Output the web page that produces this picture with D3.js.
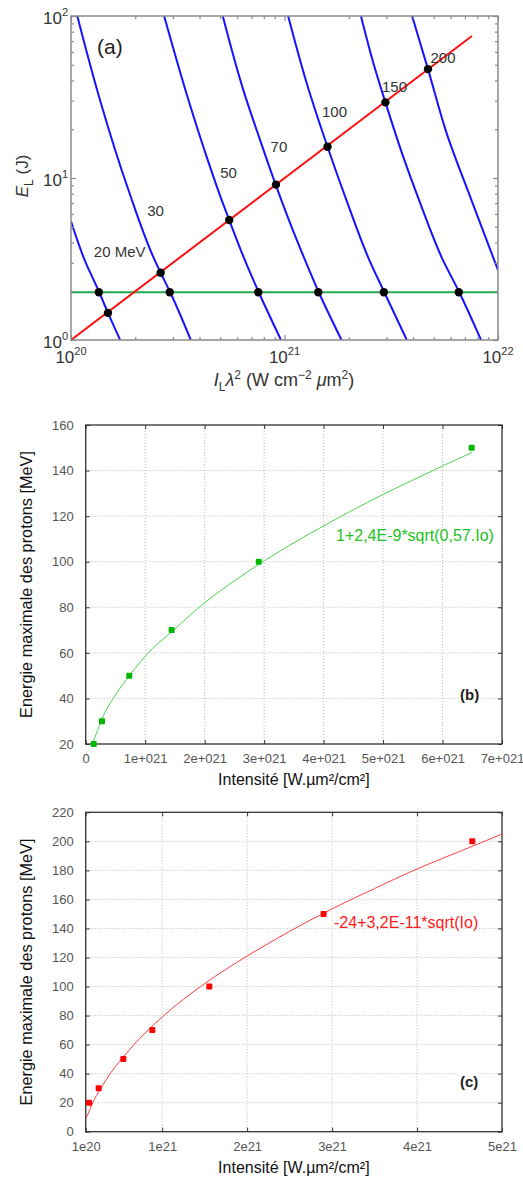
<!DOCTYPE html>
<html>
<head>
<meta charset="utf-8">
<script src="https://cdn.jsdelivr.net/npm/d3@7"></script>
<style>
  body { margin: 0; background: #fff; }
  svg { display: block; font-family: "Liberation Sans", Arial, sans-serif; }
</style>
</head>
<body>
<svg id="chart" width="523" height="1178"></svg>
<script>
// ================= DATA =================
// ---- Panel (a): iso-energy curves, E_L (J) vs I_L*lambda^2 (W cm^-2 um^2)
const curveNames = ["20 MeV", "30", "50", "70", "100", "150", "200"];
const curve20Intensity  = [1.00e20, 1.16e20, 1.35e20, 1.49e20, 1.70e20];
const curve20Energy     = [5.4, 3.1, 2.0, 1.47, 1.0];
const curve30Intensity  = [1.07e20, 1.37e20, 1.86e20, 2.47e20, 2.63e20, 2.90e20, 3.64e20];
const curve30Energy     = [100, 30, 8.4, 3.1, 2.6, 2.0, 1.0];
const curve50Intensity  = [2.73e20, 3.55e20, 4.32e20, 5.08e20, 5.51e20, 6.53e20, 7.54e20, 9.63e20];
const curve50Energy     = [100, 30.3, 13.5, 7.3, 5.5, 3.1, 2.0, 1.0];
const curve70Intensity  = [5.14e20, 6.41e20, 7.68e20, 9.12e20, 1.06e21, 1.25e21, 1.44e21, 1.85e21];
const curve70Energy     = [100, 35, 17.2, 9.0, 5.3, 3.1, 2.0, 1.0];
const curve100Intensity = [1.04e21, 1.27e21, 1.59e21, 1.95e21, 2.50e21, 2.92e21, 3.74e21];
const curve100Energy    = [100, 38.6, 15.6, 7.3, 3.1, 2.0, 1.0];
const curve150Intensity = [2.28e21, 2.64e21, 2.97e21, 3.60e21, 4.27e21, 5.53e21, 6.55e21, 8.33e21];
const curve150Energy    = [100, 48.4, 29.3, 13.5, 7.3, 3.1, 2.0, 1.0];
const curve200Intensity = [3.96e21, 4.70e21, 5.74e21, 7.51e21, 1.0e22];
const curve200Energy    = [100, 47, 19, 7.3, 2.7];

const redLineIntensity  = [1e20, 7.55e21];
const redLineEnergy     = [1.0, 75.2];
const redDotIntensity   = [1.49e20, 2.63e20, 5.51e20, 9.12e20, 1.59e21, 2.97e21, 4.70e21];
const redDotEnergy      = [1.47, 2.6, 5.5, 9.1, 15.6, 29.3, 47];
const greenLineIntensity = [1e20, 1e22];
const greenLineEnergy   = 1.97;
const greenDotIntensity = [1.35e20, 2.90e20, 7.54e20, 1.44e21, 2.92e21, 6.55e21];

const aXTickExponents = [20, 21, 22];
const aYTickExponents = [0, 1, 2];

// ---- Panel (b)
const bIntensity = [1.35e20, 2.74e20, 7.33e20, 1.445e21, 2.91e21, 6.49e21];
const bEnergy    = [20, 30, 50, 70, 100, 150];
const bFitIntensity = [1.1e20, 2e20, 3e20, 5e20, 7.5e20, 1e21, 1.5e21, 2e21, 2.5e21, 3e21, 3.5e21, 4e21, 4.5e21, 5e21, 5.5e21, 6e21, 6.5e21];
const bFitEnergy    = [20, 26, 32.5, 41.5, 50.5, 58.5, 70.5, 82, 91.6, 100.4, 108.3, 115.7, 122.8, 129.5, 135.8, 142, 148];
const bXTickValues = [0, 1e21, 2e21, 3e21, 4e21, 5e21, 6e21, 7e21];
const bXTickLabels = ["0", "1e+021", "2e+021", "3e+021", "4e+021", "5e+021", "6e+021", "7e+021"];
const bYTickValues = [20, 40, 60, 80, 100, 120, 140, 160];
const bFitLabel = "1+2,4E-9*sqrt(0,57.Io)";

// ---- Panel (c)
const cIntensity = [1.39e20, 2.53e20, 5.43e20, 8.84e20, 1.555e21, 2.90e21, 4.65e21];
const cEnergy    = [20, 30, 50, 70, 100, 150, 200];
const cFitIntensity = [1e20, 1.5e20, 2e20, 3e20, 4e20, 5e20, 7e20, 1e21, 1.5e21, 2e21, 2.5e21, 3e21, 3.5e21, 4e21, 4.5e21, 5e21];
const cFitEnergy    = [8.5, 15.5, 22, 32, 41, 48.5, 62, 79, 102, 121, 138, 153.5, 167.5, 181, 193, 205];
const cXTickValues = [1e20, 1e21, 2e21, 3e21, 4e21, 5e21];
const cXTickLabels = ["1e20", "1e21", "2e21", "3e21", "4e21", "5e21"];
const cYTickValues = [0, 20, 40, 60, 80, 100, 120, 140, 160, 180, 200, 220];
const cFitLabel = "-24+3,2E-11*sqrt(Io)";

const yTitleBC = "Energie maximale des protons [MeV]";
const xTitleBC = "Intensité [W.µm²/cm²]";

// ================= DRAW =================
const svg = d3.select("#chart");
const zip = (a, b) => a.map((v, i) => [v, Array.isArray(b) ? b[i] : b]);

// ---------- Panel (a) ----------
const A = { l: 71, r: 498, t: 16, b: 340 };
const xA = d3.scaleLog().domain([1e20, 1e22]).range([A.l, A.r]);
const yA = d3.scaleLog().domain([1, 100]).range([A.b, A.t]);
const gA = svg.append("g");
svg.append("defs").append("clipPath").attr("id", "clipA")
  .append("rect").attr("x", A.l).attr("y", A.t).attr("width", A.r - A.l).attr("height", A.b - A.t);

const plotA = gA.append("g").attr("clip-path", "url(#clipA)");
const lineA = d3.line().x(d => xA(d[0])).y(d => yA(d[1])).curve(d3.curveMonotoneY);
const curves = [
  [curve20Intensity, curve20Energy], [curve30Intensity, curve30Energy],
  [curve50Intensity, curve50Energy], [curve70Intensity, curve70Energy],
  [curve100Intensity, curve100Energy], [curve150Intensity, curve150Energy],
  [curve200Intensity, curve200Energy]
];
plotA.selectAll("path.iso").data(curves).join("path")
  .attr("class", "iso")
  .attr("d", c => lineA(zip(c[0], c[1])))
  .attr("fill", "none").attr("stroke", "#1414ff").attr("stroke-width", 2);

const straight = d3.line().x(d => xA(d[0])).y(d => yA(d[1]));
plotA.append("path").attr("d", straight(zip(greenLineIntensity, greenLineEnergy)))
  .attr("fill", "none").attr("stroke", "#25a84c").attr("stroke-width", 2);
plotA.append("path").attr("d", straight(zip(redLineIntensity, redLineEnergy)))
  .attr("fill", "none").attr("stroke", "#ff1010").attr("stroke-width", 2);

plotA.selectAll("circle.rd").data(zip(redDotIntensity, redDotEnergy)).join("circle")
  .attr("class", "rd").attr("cx", d => xA(d[0])).attr("cy", d => yA(d[1])).attr("r", 4.2).attr("fill", "#000");
plotA.selectAll("circle.gd").data(zip(greenDotIntensity, greenLineEnergy)).join("circle")
  .attr("class", "gd").attr("cx", d => xA(d[0])).attr("cy", d => yA(d[1])).attr("r", 4.2).attr("fill", "#000");

// axes (a): inward ticks on all sides
const isMajor = v => Math.abs(Math.log10(v) - Math.round(Math.log10(v))) < 1e-9;
const xTicksA = xA.ticks(), yTicksA = yA.ticks();
const xMinA = xTicksA.filter(v => !isMajor(v)), xMajA = xTicksA.filter(isMajor);
const yMinA = yTicksA.filter(v => !isMajor(v)), yMajA = yTicksA.filter(isMajor);
function styleAxis(g, col) {
  g.select(".domain").remove();
  g.selectAll(".tick line").attr("stroke", col).attr("stroke-width", 1.2);
  g.selectAll(".tick text").remove();
}
const axCol = "#8a8a8a";
[[d3.axisBottom, A.b, xMinA, 3], [d3.axisBottom, A.b, xMajA, 5], [d3.axisTop, A.t, xMinA, 3], [d3.axisTop, A.t, xMajA, 5]]
  .forEach(([fn, y, vals, len]) => gA.append("g").attr("transform", `translate(0,${y})`)
    .call(fn(xA).tickValues(vals).tickSize(-len).tickFormat("")).call(g => styleAxis(g, axCol)));
[[d3.axisLeft, A.l, yMinA, 3], [d3.axisLeft, A.l, yMajA, 5], [d3.axisRight, A.r, yMinA, 3], [d3.axisRight, A.r, yMajA, 5]]
  .forEach(([fn, x, vals, len]) => gA.append("g").attr("transform", `translate(${x},0)`)
    .call(fn(yA).tickValues(vals).tickSize(-len).tickFormat("")).call(g => styleAxis(g, axCol)));
gA.append("rect").attr("x", A.l).attr("y", A.t).attr("width", A.r - A.l).attr("height", A.b - A.t)
  .attr("fill", "none").attr("stroke", axCol).attr("stroke-width", 1.5);

// tick labels (a)
const txtCol = "#333";
aXTickExponents.forEach(e => {
  const t = gA.append("text").attr("x", xA(Math.pow(10, e))).attr("y", 363)
    .attr("text-anchor", "middle").attr("font-size", 17).attr("fill", txtCol);
  t.append("tspan").text("10");
  t.append("tspan").attr("dy", -8).attr("font-size", 11).text(e);
});
aYTickExponents.forEach(e => {
  const t = gA.append("text").attr("x", 68).attr("y", yA(Math.pow(10, e)) + 8)
    .attr("text-anchor", "end").attr("font-size", 17).attr("fill", txtCol);
  t.append("tspan").text("10");
  t.append("tspan").attr("dy", -8).attr("font-size", 11).text(e);
});

// axis titles (a)
{
  const t = gA.append("text").attr("x", 284).attr("y", 386).attr("text-anchor", "middle")
    .attr("font-size", 18).attr("fill", txtCol);
  t.append("tspan").attr("font-style", "italic").text("I");
  t.append("tspan").attr("font-size", 12).attr("dy", 5).text("L");
  t.append("tspan").attr("font-style", "italic").attr("dy", -5).text("λ");
  t.append("tspan").attr("font-size", 12).attr("dy", -7).text("2");
  t.append("tspan").attr("dy", 7).text(" (W cm");
  t.append("tspan").attr("font-size", 12).attr("dy", -7).text("−2");
  t.append("tspan").attr("dy", 7).text(" ");
  t.append("tspan").attr("font-style", "italic").text("μ");
  t.append("tspan").text("m");
  t.append("tspan").attr("font-size", 12).attr("dy", -7).text("2");
  t.append("tspan").attr("dy", 7).text(")");
}
{
  const t = gA.append("text").attr("transform", "translate(28,176) rotate(-90)").attr("text-anchor", "middle")
    .attr("font-size", 17).attr("fill", txtCol);
  t.append("tspan").attr("font-style", "italic").text("E");
  t.append("tspan").attr("font-size", 12).attr("dy", 5).text("L");
  t.append("tspan").attr("dy", -5).text(" (J)");
}
gA.append("text").attr("x", 97).attr("y", 54).attr("font-size", 21).attr("fill", "#222").text("(a)");

// curve labels (a), anchored in data space
const curveLabelAnchors = [[1.69e20, 3.49], [2.49e20, 6.26], [5.47e20, 10.74], [9.42e20, 15.54], [1.715e21, 25.55], [3.275e21, 36.45], [5.526e21, 55.05]];
curveNames.forEach((n, i) => {
  gA.append("text").attr("x", xA(curveLabelAnchors[i][0])).attr("y", yA(curveLabelAnchors[i][1]) + 5.3)
    .attr("text-anchor", "middle").attr("font-size", 15).attr("fill", txtCol).text(n);
});

// ---------- Panels (b) and (c) ----------
function drawLinearPanel(cfg) {
  const { box, x, y, xVals, xLabels, yVals, pts, fit, color, markColor, lineColor, fitText, fitTextPos, tag, tagPos } = cfg;
  const g = svg.append("g");
  // grid
  g.selectAll("line.gx").data(xVals.slice(1, -1)).join("line")
    .attr("x1", d => x(d)).attr("x2", d => x(d)).attr("y1", box.t).attr("y2", box.b)
    .attr("stroke", "#b8b8b8").attr("stroke-width", 1).attr("stroke-dasharray", "1,2");
  g.selectAll("line.gy").data(yVals.slice(1, -1)).join("line")
    .attr("y1", d => y(d)).attr("y2", d => y(d)).attr("x1", box.l).attr("x2", box.r)
    .attr("stroke", "#b8b8b8").attr("stroke-width", 1).attr("stroke-dasharray", "1,2");
  // tag label with white background
  const tagT = g.append("text").attr("x", tagPos[0]).attr("y", tagPos[1]).attr("font-size", 15)
    .attr("font-weight", "bold").attr("fill", "#222").text(tag);
  const bb = tagT.node().getBBox();
  g.insert("rect", "text").attr("x", bb.x - 2).attr("y", bb.y).attr("width", bb.width + 4).attr("height", bb.height).attr("fill", "#fff");
  // axes
  const ax1 = g.append("g").attr("transform", `translate(0,${box.b})`)
    .call(d3.axisBottom(x).tickValues(xVals).tickSize(-4).tickPadding(10).tickFormat((d, i) => xLabels[i]));
  const ax2 = g.append("g").attr("transform", `translate(${box.l},0)`)
    .call(d3.axisLeft(y).tickValues(yVals).tickSize(-4).tickPadding(12));
  const ax3 = g.append("g").attr("transform", `translate(0,${box.t})`)
    .call(d3.axisTop(x).tickValues(xVals).tickSize(-4).tickFormat(""));
  const ax4 = g.append("g").attr("transform", `translate(${box.r},0)`)
    .call(d3.axisRight(y).tickValues(yVals).tickSize(-4).tickFormat(""));
  [ax1, ax2, ax3, ax4].forEach(a => {
    a.select(".domain").remove();
    a.selectAll(".tick line").attr("stroke", "#333");
    a.selectAll(".tick text").attr("font-size", 13).attr("fill", "#555").attr("font-family", "Liberation Sans, Arial, sans-serif");
  });
  g.append("rect").attr("x", box.l).attr("y", box.t).attr("width", box.r - box.l).attr("height", box.b - box.t)
    .attr("fill", "none").attr("stroke", "#333").attr("stroke-width", 1.3);
  // fit curve
  const ln = d3.line().x(d => x(d[0])).y(d => y(d[1])).curve(d3.curveMonotoneX);
  g.append("path").attr("d", ln(fit)).attr("fill", "none").attr("stroke", lineColor).attr("stroke-width", 1);
  // points
  g.selectAll("rect.pt").data(pts).join("rect").attr("class", "pt")
    .attr("x", d => x(d[0]) - 3).attr("y", d => y(d[1]) - 3).attr("width", 6).attr("height", 6)
    .attr("rx", 1).attr("fill", markColor);
  // fit text
  g.append("text").attr("x", fitTextPos[0]).attr("y", fitTextPos[1]).attr("font-size", 16).attr("fill", color).text(fitText);
  // titles
  const cy = (box.t + box.b) / 2, cx = (box.l + box.r) / 2;
  g.append("text").attr("transform", `translate(32,${cy}) rotate(-90)`).attr("text-anchor", "middle")
    .attr("font-size", 16.3).attr("fill", "#111").text(yTitleBC);
  g.append("text").attr("x", cx).attr("y", box.b + 41).attr("text-anchor", "middle")
    .attr("font-size", 16).attr("fill", "#111").text(xTitleBC);
}

const B = { l: 85.7, r: 502, t: 425, b: 744 };
const xB = d3.scaleLinear().domain([0, 7e21]).range([B.l, B.r]);
const yB = d3.scaleLinear().domain([20, 160]).range([B.b, B.t]);
drawLinearPanel({
  box: B, x: xB, y: yB, xVals: bXTickValues, xLabels: bXTickLabels, yVals: bYTickValues,
  pts: zip(bIntensity, bEnergy), fit: zip(bFitIntensity, bFitEnergy),
  color: "#22c022", markColor: "#00b800", lineColor: "#4fd04f",
  fitText: bFitLabel, fitTextPos: [336, 541], tag: "(b)", tagPos: [460, 700]
});

const C = { l: 85.7, r: 502, t: 812.3, b: 1131.7 };
const xC = d3.scaleLinear().domain([1e20, 5e21]).range([C.l, C.r]);
const yC = d3.scaleLinear().domain([0, 220]).range([C.b, C.t]);
drawLinearPanel({
  box: C, x: xC, y: yC, xVals: cXTickValues, xLabels: cXTickLabels, yVals: cYTickValues,
  pts: zip(cIntensity, cEnergy), fit: zip(cFitIntensity, cFitEnergy),
  color: "#ff1a1a", markColor: "#ff0000", lineColor: "#ff4040",
  fitText: cFitLabel, fitTextPos: [334, 928], tag: "(c)", tagPos: [460, 1087]
});
</script>
</body>
</html>
